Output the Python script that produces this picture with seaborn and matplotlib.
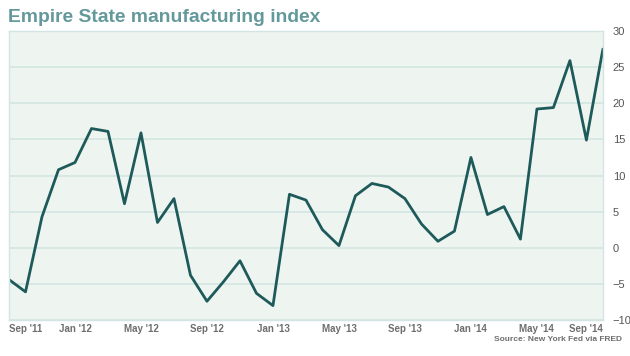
import matplotlib
matplotlib.use("Agg")
import matplotlib.pyplot as plt
import seaborn as sns
import pandas as pd

# monthly Empire State manufacturing index, Sep 2011 - Sep 2014
months = pd.date_range("2011-09-01", "2014-09-01", freq="MS")
values = [-4.4, -6.1, 4.3, 10.8, 11.8, 16.5, 16.1, 6.1, 15.9, 3.5, 6.8, -3.8,
          -7.4, -4.7, -1.8, -6.3, -8.0, 7.4, 6.6, 2.5, 0.3, 7.2, 8.9, 8.4,
          6.8, 3.3, 0.9, 2.3, 12.5, 4.6, 5.7, 1.2, 19.2, 19.4, 25.9, 14.9, 27.5]
tick_labels = ["Sep '11", "Jan '12", "May '12", "Sep '12", "Jan '13",
               "May '13", "Sep '13", "Jan '14", "May '14", "Sep '14"]
y_ticks = [-10, -5, 0, 5, 10, 15, 20, 25, 30]

df = pd.DataFrame({"idx": range(len(months)), "value": values})

sns.set_style("white")
plt.rcParams["font.family"] = ["Liberation Sans", "DejaVu Sans"]

fig = plt.figure(figsize=(6.3, 3.56), dpi=100)
ax = fig.add_axes([0.0143, 0.101, 0.9427, 0.812])
ax.set_facecolor("#eef5f1")

sns.lineplot(data=df, x="idx", y="value", ax=ax, color="#1e5a5a", linewidth=2.0)

ax.set_xlim(0, len(months) - 1)
ax.set_ylim(-10, 30)
ax.set_yticks(y_ticks)
ax.yaxis.tick_right()
ax.tick_params(axis="y", length=0, pad=7, labelsize=8, labelcolor="#555555")
ax.grid(axis="y", color="#d3e5e2", linewidth=1.2)
ax.set_axisbelow(True)

ax.set_xticks(range(0, len(months), 4))
ax.set_xticklabels(tick_labels, fontweight="bold", fontsize=7, color="#6e6e6e")
ax.tick_params(axis="x", length=0, pad=3)
xl = ax.get_xticklabels()
xl[0].set_horizontalalignment("left")
xl[-1].set_horizontalalignment("right")

ax.set_xlabel("")
ax.set_ylabel("")
for s in ax.spines.values():
    s.set_color("#d3e5e2")
    s.set_linewidth(1.0)

fig.text(0.013, 0.951, "Empire State manufacturing index", fontsize=13.9,
         fontweight="bold", color="#64999b", va="center", ha="left")
fig.text(0.988, 0.047, "Source: New York Fed via FRED", fontsize=6,
         fontweight="bold", color="#6e6e6e", va="center", ha="right")

fig.savefig("out.png", dpi=100)
